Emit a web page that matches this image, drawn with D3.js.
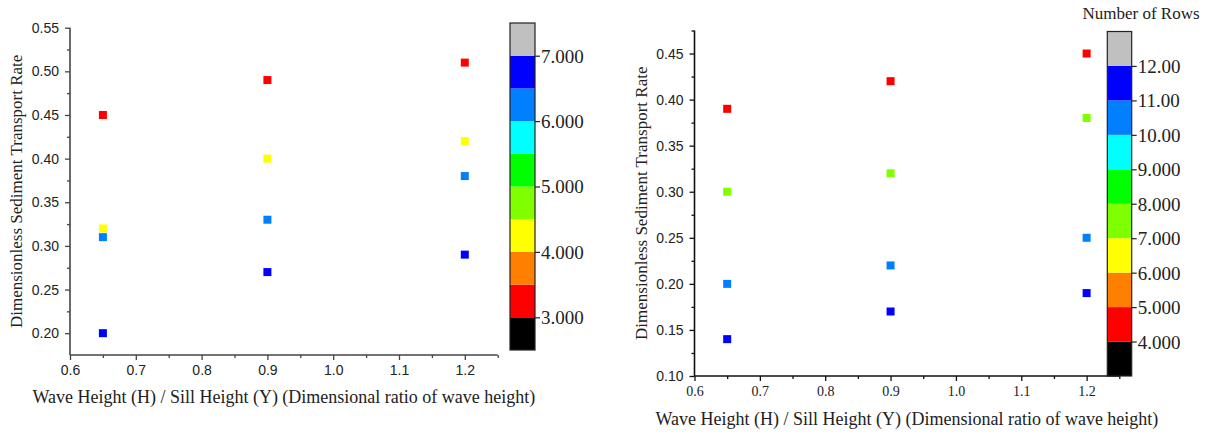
<!DOCTYPE html>
<html>
<head>
<meta charset="utf-8">
<script src="https://cdn.jsdelivr.net/npm/d3@7"></script>
<style>
  body { margin: 0; background: #fff; }
  svg { display: block; }
</style>
</head>
<body>
<svg id="chart" width="1215" height="436"></svg>
<script>
// shared x categories and labels
const xValues = [0.65, 0.9, 1.2];
const xTicks = [0.6, 0.7, 0.8, 0.9, 1.0, 1.1, 1.2];
const xMinorTicks = [0.65, 0.75, 0.85, 0.95, 1.05, 1.15, 1.25];

// left panel: number of rows (colour) and transport rate per row-group
const leftRows = [3, 4, 6, 6.5];
const leftRates = [
  [0.45, 0.49, 0.51],
  [0.32, 0.40, 0.42],
  [0.31, 0.33, 0.38],
  [0.20, 0.27, 0.29]
];
const leftYTicks = [0.20, 0.25, 0.30, 0.35, 0.40, 0.45, 0.50, 0.55];
const leftYMinor = [0.225, 0.275, 0.325, 0.375, 0.425, 0.475, 0.525];
const leftLevels = [2.5, 3, 3.5, 4, 4.5, 5, 5.5, 6, 6.5, 7, 7.5];
const leftBarTicks = [3, 4, 5, 6, 7];
const leftBarLabels = ["3.000", "4.000", "5.000", "6.000", "7.000"];

// right panel
const rightRows = [4, 7, 10, 11];
const rightRates = [
  [0.39, 0.42, 0.45],
  [0.30, 0.32, 0.38],
  [0.20, 0.22, 0.25],
  [0.14, 0.17, 0.19]
];
const rightYTicks = [0.10, 0.15, 0.20, 0.25, 0.30, 0.35, 0.40, 0.45];
const rightYMinor = [0.125, 0.175, 0.225, 0.275, 0.325, 0.375, 0.425, 0.475];
const rightLevels = [3, 4, 5, 6, 7, 8, 9, 10, 11, 12, 13];
const rightBarTicks = [4, 5, 6, 7, 8, 9, 10, 11, 12];
const rightBarLabels = ["4.000", "5.000", "6.000", "7.000", "8.000", "9.000", "10.00", "11.00", "12.00"];

const palette = ["#000000", "#ff0000", "#ff8000", "#ffff00", "#80ff00",
                 "#00ff00", "#00ffff", "#0080ff", "#0000ff", "#c0c0c0"];

const svg = d3.select("#chart");
svg.append("rect").attr("width", 1215).attr("height", 436).attr("fill", "#fff");

const SANS = "'Liberation Sans', Arial, sans-serif";
const SERIF = "'Liberation Serif', 'Times New Roman', serif";

function drawPanel(p) {
  const g = svg.append("g");
  const x = d3.scaleLinear().domain([0.6, 1.25]).range(p.xRange);
  const y = d3.scaleLinear().domain(p.yDomain).range(p.yRange);
  const c = d3.scaleLinear().domain([p.levels[0], p.levels[p.levels.length - 1]]).range(p.barY);
  const color = d3.scaleThreshold().domain(p.levels.slice(1, -1)).range(palette);

  // axes
  const xAxis = g.append("g").attr("transform", `translate(0,${p.yRange[0]})`)
    .call(d3.axisBottom(x).tickValues(xTicks).tickSize(5).tickPadding(5)
      .tickFormat(d3.format(".1f")));
  g.append("g").attr("transform", `translate(0,${p.yRange[0]})`)
    .call(d3.axisBottom(x).tickValues(xMinorTicks).tickSize(3).tickFormat(""))
    .call(a => a.select(".domain").remove())
    .selectAll("line").attr("stroke", p.axisColor).attr("stroke-width", 1.3);
  xAxis.select(".domain").attr("stroke", p.axisColor).attr("stroke-width", 1.6)
    .attr("d", `M${p.xRange[0]},0H${p.xRange[1]}`);
  xAxis.selectAll("line").attr("stroke", p.axisColor).attr("stroke-width", 1.3);
  xAxis.selectAll("text").attr("font-family", p.xTickFont).attr("font-size", 14)
    .attr("fill", "#222");

  const yAxis = g.append("g").attr("transform", `translate(${p.xRange[0]},0)`)
    .call(d3.axisLeft(y).tickValues(p.yTicks).tickSize(5).tickPadding(6)
      .tickFormat(d3.format(".2f")));
  g.append("g").attr("transform", `translate(${p.xRange[0]},0)`)
    .call(d3.axisLeft(y).tickValues(p.yMinor).tickSize(3).tickFormat(""))
    .call(a => a.select(".domain").remove())
    .selectAll("line").attr("stroke", p.axisColor).attr("stroke-width", 1.3);
  yAxis.select(".domain").attr("stroke", p.axisColor).attr("stroke-width", 1.6)
    .attr("d", `M0,${p.yRange[0]}V${p.yRange[1]}`);
  yAxis.selectAll("line").attr("stroke", p.axisColor).attr("stroke-width", 1.3);
  yAxis.selectAll("text").attr("font-family", SANS).attr("font-size", 14)
    .attr("fill", "#222");

  // markers
  p.rates.forEach((series, i) => {
    g.selectAll(null).data(series).enter().append("rect")
      .attr("x", (d, j) => x(xValues[j]) - 4)
      .attr("y", d => y(d) - 4)
      .attr("width", 8).attr("height", 8)
      .attr("fill", color(p.rows[i]));
  });

  // colour bar
  const bar = g.append("g");
  bar.selectAll("rect").data(p.levels.slice(0, -1)).enter().append("rect")
    .attr("x", p.barX[0]).attr("width", p.barX[1] - p.barX[0])
    .attr("y", (d, i) => c(p.levels[i + 1]))
    .attr("height", (d, i) => c(p.levels[i]) - c(p.levels[i + 1]))
    .attr("fill", d => color(d));
  bar.append("rect")
    .attr("x", p.barX[0]).attr("width", p.barX[1] - p.barX[0])
    .attr("y", p.barY[1]).attr("height", p.barY[0] - p.barY[1])
    .attr("fill", "none").attr("stroke", "#222").attr("stroke-width", 1.2);
  const barAxis = bar.append("g").attr("transform", `translate(${p.barX[1]},0)`)
    .call(d3.axisRight(c).tickValues(p.barTicks).tickSize(5).tickPadding(1)
      .tickFormat((d, i) => p.barLabels[i]));
  barAxis.select(".domain").remove();
  barAxis.selectAll("line").attr("stroke", "#222").attr("stroke-width", 1.2);
  barAxis.selectAll("text").attr("font-family", SERIF).attr("font-size", 19)
    .attr("fill", "#222").attr("dy", "0.34em");

  // titles
  g.append("text")
    .attr("x", (p.xRange[0] + p.xRange[1]) / 2).attr("y", p.xTitleY)
    .attr("text-anchor", "middle").attr("font-family", SERIF).attr("font-size", 18)
    .attr("fill", "#222")
    .text("Wave Height (H) / Sill Height (Y) (Dimensional ratio of wave height)");
  g.append("text")
    .attr("transform", `translate(${p.yTitleX},${(p.yRange[0] + p.yRange[1]) / 2}) rotate(-90)`)
    .attr("text-anchor", "middle").attr("font-family", SERIF).attr("font-size", 17)
    .attr("fill", "#222")
    .text("Dimensionless Sediment Transport Rate");
  return g;
}

drawPanel({
  xRange: [70, 497.7], yDomain: [0.175, 0.55], yRange: [355, 27.7],
  yTicks: leftYTicks, yMinor: leftYMinor,
  rows: leftRows, rates: leftRates,
  levels: leftLevels, barX: [510, 535], barY: [350, 23],
  barTicks: leftBarTicks, barLabels: leftBarLabels,
  axisColor: "#444", xTickFont: SANS, xTitleY: 403, yTitleX: 22
});

const right = drawPanel({
  xRange: [694.5, 1119.3], yDomain: [0.10, 0.475], yRange: [376, 30.5],
  yTicks: rightYTicks, yMinor: rightYMinor,
  rows: rightRows, rates: rightRates,
  levels: rightLevels, barX: [1107.3, 1131.7], barY: [376, 31.5],
  barTicks: rightBarTicks, barLabels: rightBarLabels,
  axisColor: "#111", xTickFont: SERIF, xTitleY: 425, yTitleX: 647
});

right.append("text")
  .attr("x", 1141).attr("y", 19).attr("text-anchor", "middle")
  .attr("font-family", SERIF).attr("font-size", 17).attr("fill", "#222")
  .text("Number of Rows");
</script>
</body>
</html>
